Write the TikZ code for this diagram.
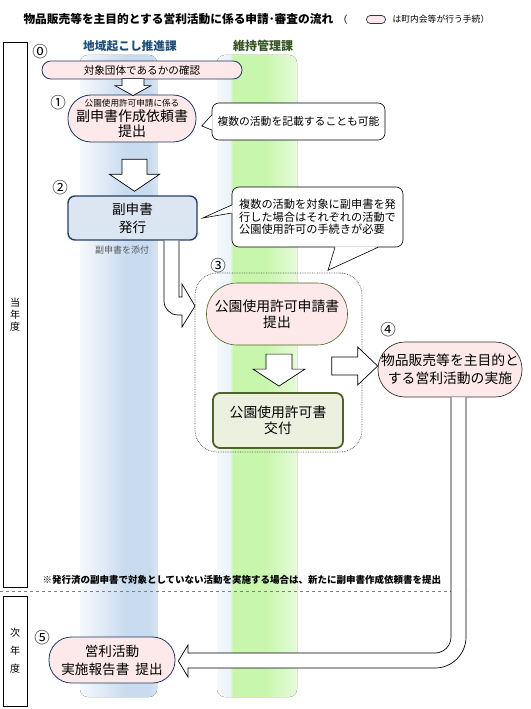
\documentclass[tikz,border=0pt]{standalone}
\usepackage{fontspec}
\setmainfont{Noto Sans CJK JP}
\usetikzlibrary{calc, positioning}
\definecolor{pinkfill}{RGB}{253, 233, 233}
\definecolor{navyline}{RGB}{32, 56, 100}
\definecolor{bluefill}{RGB}{220, 230, 242}
\definecolor{blueline}{RGB}{36, 64, 98}
\definecolor{greenfill}{RGB}{235, 241, 222}
\definecolor{greenline}{RGB}{79, 98, 40}
\definecolor{headblue}{RGB}{31, 78, 121}
\definecolor{headgreen}{RGB}{55, 86, 35}
\definecolor{bandwhite}{RGB}{245, 249, 252}
\definecolor{bandblue}{RGB}{200, 219, 239}
\definecolor{bandgreen}{RGB}{200, 246, 172}
\definecolor{notegray}{RGB}{89, 89, 89}
\pgfdeclarehorizontalshading{blueband}{100bp}{color(0bp)=(bandwhite); color(25bp)=(bandwhite); color(55bp)=(bandblue); color(70bp)=(bandblue); color(75bp)=(bandblue!70!white); color(100bp)=(bandblue!70!white)}
\pgfdeclarehorizontalshading{greenband}{100bp}{color(0bp)=(bandwhite); color(25bp)=(bandwhite); color(33bp)=(bandblue!35!white); color(35bp)=(bandgreen); color(55bp)=(bandgreen); color(75bp)=(bandgreen!45!white); color(100bp)=(bandgreen!45!white)}

\begin{document}
\begin{tikzpicture}[x=1pt, y=-1pt,
  pillbox/.style={draw=navyline, fill=pinkfill, line width=0.8pt, inner sep=0pt, align=center},
  greenpill/.style={pillbox, draw=greenline, line width=0.6pt},
  callbox/.style={draw, fill=white, rounded corners=7pt, line width=0.6pt, inner sep=0pt},
  blockarrow/.style={draw, fill=white, line width=0.7pt, line join=miter},
  stepnum/.style={font=\fontsize{15.5}{16}\selectfont},
  yearbox/.style={draw, line width=0.8pt, inner sep=0pt, minimum width=24, align=center, font=\fontsize{10}{12}\selectfont}
]
  \useasboundingbox[fill=white] (0,0) rectangle (530,709);
  % department bands
  \fill[shading=blueband, rounded corners=8pt] (80,55) rectangle (157,697);
  \fill[shading=greenband, rounded corners=8pt] (217,55) rectangle (297,697);

  % title and legend
  \node[anchor=west, font=\bfseries\fontsize{11.7}{13}\selectfont] (title) at (20,19) {物品販売等を主目的とする営利活動に係る申請･審査の流れ};
  \node[anchor=west, font=\fontsize{10}{11}\selectfont] (legopen) at (334,19.5) {（};
  \node[pillbox, minimum width=19, minimum height=8, rounded corners=3.8pt, line width=0.7pt] (legpill) at (376,19.5) {};
  \node[anchor=west, font=\fontsize{8.8}{10}\selectfont] (legtext) at (389,19.5) {は町内会等が行う手続）};

  \node[font=\bfseries\fontsize{11.7}{13}\selectfont, text=headblue] (deptA) at (130,46) {地域起こし推進課};
  \node[font=\bfseries\fontsize{12}{13}\selectfont, text=headgreen] (deptB) at (263,46) {維持管理課};

  % year columns
  \node[yearbox, minimum height=545] (thisyear) at (15,314.5) {当\\年\\度};
  \node[yearbox, minimum height=110, font=\fontsize{10}{18}\selectfont] (nextyear) at (15,651) {次\\年\\度};
  \draw[dashed, gray] (0,591.5) -- (468,591.5);
  \node[anchor=west, font=\bfseries\fontsize{9.5}{11}\selectfont] (remark) at (39,580) {※発行済の副申書で対象としていない活動を実施する場合は、新たに副申書作成依頼書を提出};

  % step 0 and 1
  \node[stepnum] (n0) at (40,52) {⓪};
  \node[pillbox, minimum width=200, minimum height=18, rounded corners=8.8pt, font=\fontsize{10.6}{12}\selectfont] (confirm) at (142,70) {対象団体であるかの確認};
  \node[stepnum] (n1) at (58,103) {①};
  \node[pillbox, minimum width=128, minimum height=47, rounded corners=23pt, font=\fontsize{14}{15}\selectfont] (request) at (132,118.5)
    {{\fontsize{8.6}{11}\selectfont 公園使用許可申請に係る}\\副申書作成依頼書\\提出};
  \draw[blockarrow] ($(request.north)+(1,1)$) -- ++(18,-10) -- ++(-7,0) -- ++(0,-7) -- ++(-22,0) -- ++(0,7) -- ++(-7,0) -- cycle;

  \node[callbox, minimum width=173, minimum height=37, font=\fontsize{10.8}{12}\selectfont] (note1) at (298.5,121.5) {複数の活動を記載することも可能};
  \fill[white] ($(note1.west)+(1,-6.5)$) -- ($(note1.west)+(-10,4.5)$) -- ($(note1.west)+(1,8.5)$) -- cycle;
  \draw[line width=0.6pt] ($(note1.west)+(0,-6.5)$) -- ($(note1.west)+(-10,4.5)$) -- ($(note1.west)+(0,8.5)$);

  % step 2
  \node[stepnum] (n2) at (60,188) {②};
  \node[draw=blueline, fill=bluefill, line width=1.4pt, rounded corners=7pt, minimum width=129, minimum height=44, align=center, font=\fontsize{13.6}{18}\selectfont] (issue) at (132.5,218) {副申書\\発行};
  \draw[blockarrow] ($(issue.north)+(2,-4)$) -- ++(25,-17) -- ++(-12.5,0) -- ++(0,-15) -- ++(-25,0) -- ++(0,15) -- ++(-12.5,0) -- cycle;
  \node[font=\fontsize{9}{10}\selectfont, text=notegray] (attach) at (122,250) {副申書を添付};

  \node[callbox, minimum width=171, minimum height=60, align=left, font=\fontsize{11.2}{12.6}\selectfont] (note2) at (317.5,217)
    {複数の活動を対象に副申書を発\\行した場合はそれぞれの活動で\\公園使用許可の手続きが必要};
  \fill[white] ($(note2.west)+(1,-12)$) -- ($(note2.west)+(-29,1)$) -- ($(note2.west)+(1,-4)$) -- cycle;
  \draw[line width=0.6pt] ($(note2.west)+(0,-12)$) -- ($(note2.west)+(-29,1)$) -- ($(note2.west)+(0,-4)$);
  \fill[white] ($(note2.south)+(17.5,-1)$) -- ($(note2.south)+(10.5,23)$) -- ($(note2.south)+(60.5,-1)$) -- cycle;
  \draw[line width=0.6pt] ($(note2.south)+(17.5,0)$) -- ($(note2.south)+(10.5,23)$) -- ($(note2.south)+(60.5,0)$);

  % step 3
  \node[stepnum] (n3) at (218,266) {③};
  \node[draw=black!70, densely dotted, line width=0.7pt, rounded corners=22pt, minimum width=167, minimum height=179] (step3) at (278.5,362.5) {};
  \draw[blockarrow] (issue.south -| 179,0) -- (179,297) -- (182,297) -- (182,284) -- (195,306) -- (182,327) -- (182,315) -- (178,315)
    .. controls (170.3,315) and (164,308.7) .. (164,301) -- (issue.south -| 164,0);
  \node[greenpill, minimum width=141, minimum height=62, rounded corners=30.5pt, font=\fontsize{13.8}{16}\selectfont] (apply) at (277,314) {公園使用許可申請書\\提出};
  \node[draw=greenline, fill=greenfill, line width=1.8pt, rounded corners=7pt, minimum width=130, minimum height=55, align=center, font=\fontsize{13.8}{16}\selectfont] (permit) at (278,420.5) {公園使用許可書\\交付};
  \draw[blockarrow] ($(permit.north)+(1,-6)$) -- ++(26,-17) -- ++(-13,0) -- ++(0,-15) -- ++(-26,0) -- ++(0,15) -- ++(-13,0) -- cycle;

  % step 4
  \node[stepnum] (n4) at (388,330) {④};
  \node[pillbox, draw=black!80, line width=0.7pt, minimum width=144, minimum height=55, rounded corners=27pt, font=\fontsize{13.8}{18}\selectfont] (perform) at (450,369.5) {物品販売等を主目的と\\する営利活動の実施};
  \draw[blockarrow] ($(perform.west)+(0,-3.5)$) -- ++(-20,-19) -- ++(0,10) -- ++(-26,0) -- ++(0,18) -- ++(26,0) -- ++(0,10) -- cycle;

  % step 5
  \node[stepnum] (n5) at (42,638) {⑤};
  \node[pillbox, minimum width=126, minimum height=46, rounded corners=22.5pt, font=\fontsize{13.6}{18}\selectfont] (report) at (112,660) {営利活動\\実施報告書\ \ 提出};
  \draw[blockarrow] ($(perform.south)+(1,0)$) -- (451,637) .. controls (451,645.8) and (443.8,653) .. (435,653) -- (188,653) -- (188,645)
    -- ($(report.east)+(3,1)$) -- (188,677) -- (188,668) -- (435,668) .. controls (452.1,668) and (466,654.1) .. (466,637) -- ($(perform.south)+(16,0)$);
\end{tikzpicture}
\end{document}
